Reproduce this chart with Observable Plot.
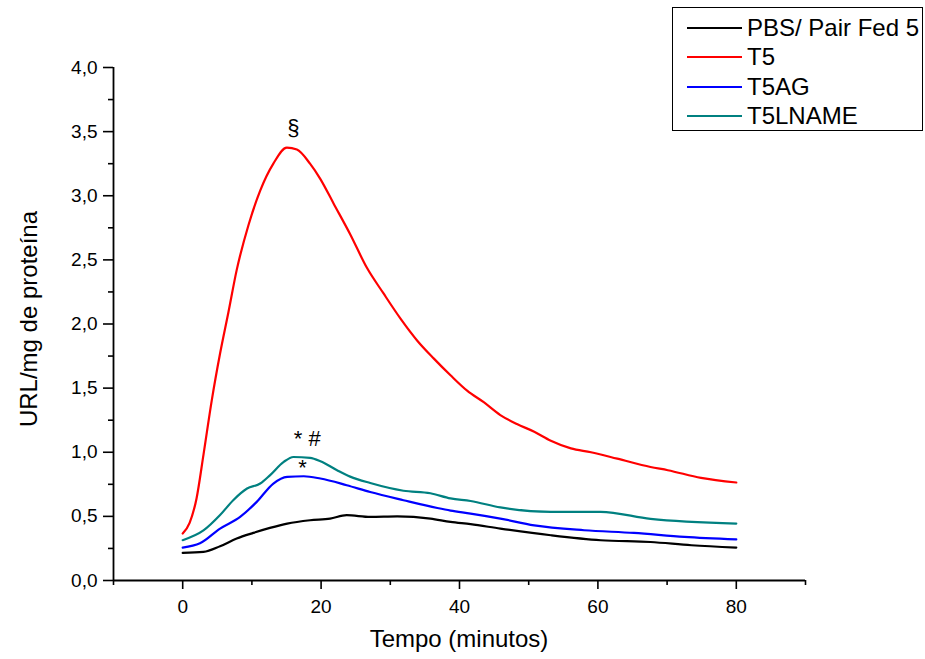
<!DOCTYPE html>
<html><head><meta charset="utf-8">
<script src="https://cdn.jsdelivr.net/npm/d3@7"></script>
<script src="https://cdn.jsdelivr.net/npm/@observablehq/plot@0.6"></script>
<style>
body{margin:0;background:#fff;font-family:"Liberation Sans",Arial,sans-serif;}
#wrap{position:relative;width:925px;height:659px;overflow:hidden;}
#legend{position:absolute;left:672px;top:7px;width:251px;height:124px;border:1px solid #000;box-sizing:border-box;background:#fff;padding-top:5px;}
.row{display:flex;align-items:center;height:29.5px;}
.sw{width:55px;height:2px;margin-left:14px;margin-right:5px;}
.lbl{font-size:24px;line-height:1;color:#000;white-space:nowrap;}
#xt{position:absolute;left:0;width:918px;top:625px;text-align:center;font-size:24px;}
#yt{position:absolute;left:29px;top:319px;font-size:24px;transform:translate(-50%,-50%) rotate(-90deg);white-space:nowrap;}
</style></head>
<body><div id="wrap"><div id="chart"></div><div id="legend"></div><div id="xt">Tempo (minutos)</div><div id="yt">URL/mg de proteína</div></div>
<script>
const seriesNames = ["PBS/ Pair Fed 5", "T5", "T5AG", "T5LNAME"];
const seriesColors = ["#000000", "#ff0000", "#0000ff", "#008080"];

const tBlack = [0,3,5.4,7.8,10.2,12.6,15.1,18.4,21.3,23.7,27.1,31,35.8,38.7,41.6,45.9,53.2,60.4,67.6,73.5,80];
const vBlack = [0.215,0.223,0.267,0.327,0.371,0.41,0.444,0.47,0.483,0.509,0.496,0.50,0.483,0.457,0.439,0.405,0.353,0.314,0.30,0.275,0.257];

const tRed = [0,1,2,3,4.2,5.4,6.6,7.8,9.5,11.2,13.1,15.05,16.5,18.4,19.9,21.8,24.2,26.6,29,31.5,33.9,36.3,38.7,41.1,43.5,45.9,48.3,50.8,53.2,56.1,59,62.8,67.6,70.1,74.9,80];
const vRed = [0.366,0.45,0.64,0.98,1.405,1.77,2.09,2.42,2.77,3.04,3.25,3.375,3.36,3.25,3.13,2.94,2.70,2.44,2.24,2.04,1.87,1.73,1.60,1.48,1.39,1.29,1.22,1.16,1.09,1.03,1.00,0.95,0.885,0.86,0.80,0.764];

const tBlue = [0,2.5,5.4,8.3,10.7,13.1,15.1,17.5,19.9,23.7,27.1,31.9,36.8,38.7,41.6,45.9,50.8,58,65.2,72.5,80];
const vBlue = [0.257,0.29,0.405,0.496,0.613,0.756,0.808,0.813,0.795,0.743,0.69,0.626,0.565,0.545,0.522,0.483,0.43,0.392,0.371,0.34,0.32];

const tTeal = [0,3,5.4,7.3,9.3,11.2,12.6,14.6,16,18.4,19.9,22.3,24.2,27.1,31.9,35.8,38.7,41.6,45.9,53.2,60.4,67.6,80];
const vTeal = [0.314,0.39,0.51,0.626,0.717,0.756,0.82,0.925,0.963,0.956,0.93,0.86,0.81,0.76,0.70,0.68,0.64,0.62,0.57,0.535,0.535,0.48,0.444];

const xDomain = [-10, 90];
const yDomain = [0, 4];
const xMajor = [0, 20, 40, 60, 80];
const xMinor = [-10, 10, 30, 50, 70, 90];
const yMajor = [0, 0.5, 1, 1.5, 2, 2.5, 3, 3.5, 4];
const yMinor = [0.25, 0.75, 1.25, 1.75, 2.25, 2.75, 3.25, 3.75];

const annText = ["§", "* #", "*"];
const annT = [16.0, 18.0, 17.3];
const annV = [3.53, 1.10, 0.875];

const allT = [tBlack, tRed, tBlue, tTeal];
const allV = [vBlack, vRed, vBlue, vTeal];
const rows = [];
seriesNames.forEach((name, i) => allT[i].forEach((t, j) => rows.push({series: name, t, v: allV[i][j]})));
const ann = annText.map((s, i) => ({s, t: annT[i], v: annV[i]}));

const fmt = d => d3.format(".1f")(d).replace(".", ",");

const chart = Plot.plot({
  width: 925, height: 659,
  marginLeft: 113, marginRight: 120, marginTop: 67, marginBottom: 79,
  style: {fontFamily: "'Liberation Sans', Arial, sans-serif", fontSize: "19px", color: "#000", background: "#fff"},
  x: {domain: xDomain},
  y: {domain: yDomain},
  color: {domain: seriesNames, range: seriesColors},
  marks: [
    Plot.axisX(xMajor, {tickSize: 9, tickPadding: 10, tickFormat: d => String(d), strokeWidth: 1.6, fontSize: 19, label: null}),
    Plot.axisX(xMinor, {tickSize: 5, tickFormat: () => "", strokeWidth: 1.6, label: null}),
    Plot.axisY(yMajor, {tickSize: 10, tickPadding: 6, tickFormat: fmt, strokeWidth: 1.6, fontSize: 19, label: null}),
    Plot.axisY(yMinor, {tickSize: 5, tickFormat: () => "", strokeWidth: 1.6, label: null}),
    Plot.ruleY([yDomain[0]], {stroke: "#000", strokeWidth: 1.8}),
    Plot.ruleX([xDomain[0]], {stroke: "#000", strokeWidth: 1.8}),
    Plot.line(rows, {x: "t", y: "v", z: "series", stroke: "series", strokeWidth: 2.2, curve: "monotone-x"}),
    Plot.text(ann, {x: "t", y: "v", text: "s", fontSize: 22, fill: "#000"})
  ]
});
document.getElementById("chart").appendChild(chart);

const lg = document.getElementById("legend");
seriesNames.forEach((n, i) => {
  const r = document.createElement("div"); r.className = "row";
  const s = document.createElement("div"); s.className = "sw"; s.style.background = seriesColors[i];
  const l = document.createElement("div"); l.className = "lbl"; l.textContent = n;
  r.appendChild(s); r.appendChild(l); lg.appendChild(r);
});
</script></body></html>
